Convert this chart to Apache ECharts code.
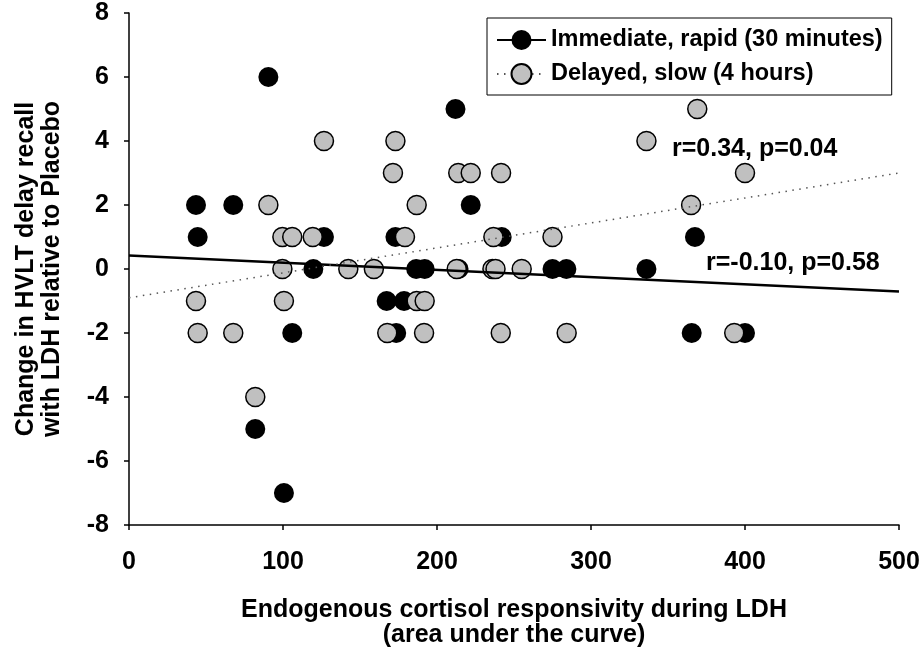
<!DOCTYPE html>
<html>
<head>
<meta charset="utf-8">
<script src="https://cdn.jsdelivr.net/npm/echarts@6/dist/echarts.min.js"></script>
<style>html,body{margin:0;padding:0;background:#fff}#c{width:922px;height:649px}</style>
</head>
<body>
<div id="c"></div>
<script>
var immediateName = 'Immediate, rapid (30 minutes)';
var delayedName = 'Delayed, slow (4 hours)';
var xTicks = [0, 100, 200, 300, 400, 500];
var yTicks = [-8, -6, -4, -2, 0, 2, 4, 6, 8];
var immediatePoints = [
  [43.5,2],[44.6,1],[67.7,2],[90.5,6],[126.6,1],[173,1],[119.7,0],[186.5,0],[192,0],
  [212,5],[221.9,2],[242,1],[214,0],[275,0],[284,0],[336,0],[367.5,1],[167.3,-1],
  [178.6,-1],[106,-2],[173.5,-2],[82,-5],[100.6,-7],[365.4,-2],[400,-2]
];
var delayedPoints = [
  [90.5,2],[126.6,4],[173,4],[171.4,3],[186.8,2],[99.6,1],[106,1],[119.3,1],[179.2,1],
  [99.6,0],[142.4,0],[159,0],[43.5,-1],[100.6,-1],[186.8,-1],[192,-1],[44.6,-2],[67.7,-2],
  [167.7,-2],[191.6,-2],[82,-4],[336,4],[369,5],[213.8,3],[221.9,3],[241.6,3],[365,2],
  [236.6,1],[275,1],[212.8,0],[236,0],[238,0],[255,0],[241.4,-2],[284.2,-2],[400,3],[393,-2]
];
var immediateFit = [[0,0.42],[500,-0.70]];
var delayedFit = [[0,-0.90],[500,3.0]];
var immediateStat = 'r=-0.10, p=0.58';
var delayedStat = 'r=0.34, p=0.04';

var FONT = 'Liberation Sans, Arial, sans-serif';
var FS = 25;
var chart = echarts.init(document.getElementById('c'));
chart.setOption({
  animation: false,
  grid: {left: 129, right: 23, top: 13, bottom: 124, outerBoundsMode: 'none', containLabel: false},
  legend: {
    left: 487, top: 18, orient: 'vertical',
    data: [immediateName, delayedName],
    itemWidth: 49, itemHeight: 25, itemGap: 10,
    borderColor: '#000', borderWidth: 1, padding: [10, 9, 9, 9],
    textStyle: {fontFamily: FONT, fontWeight: 'bold', fontSize: 23.5, color: '#000'},
    selectedMode: false
  },
  xAxis: {
    type: 'value', min: 0, max: 500, interval: 100,
    name: 'Endogenous cortisol responsivity during LDH\n(area under the curve)',
    nameLocation: 'middle', nameGap: 73,
    nameTextStyle: {fontFamily: FONT, fontWeight: 'bold', fontSize: FS, color: '#000', lineHeight: 25},
    axisLine: {onZero: false, lineStyle: {color: '#000', width: 1.5}},
    axisTick: {show: true, length: 5, lineStyle: {color: '#000', width: 1.5}},
    axisLabel: {margin: 25, fontFamily: FONT, fontWeight: 'bold', fontSize: FS, color: '#000',
      formatter: function(v){ return xTicks.indexOf(v) >= 0 ? String(v) : ''; }},
    splitLine: {show: false}
  },
  yAxis: {
    type: 'value', min: -8, max: 8, interval: 2,
    name: 'Change in HVLT delay recall\nwith LDH relative to Placebo',
    nameLocation: 'middle', nameGap: 64, nameRotate: 90,
    nameTextStyle: {fontFamily: FONT, fontWeight: 'bold', fontSize: FS, color: '#000', lineHeight: 26},
    axisLine: {show: true, onZero: false, lineStyle: {color: '#000', width: 1.5}},
    axisTick: {show: true, length: 5, lineStyle: {color: '#000', width: 1.5}},
    axisLabel: {margin: 20, fontFamily: FONT, fontWeight: 'bold', fontSize: FS, color: '#000',
      formatter: function(v){ return yTicks.indexOf(v) >= 0 ? String(v) : ''; }},
    splitLine: {show: false}
  },
  graphic: [
    {type: 'text', left: 672, top: 137, style: {text: delayedStat, fontFamily: FONT, fontWeight: 'bold', fontSize: FS, fill: '#000'}},
    {type: 'text', left: 706, top: 251, style: {text: immediateStat, fontFamily: FONT, fontWeight: 'bold', fontSize: FS, fill: '#000'}}
  ],
  series: [
    {name: immediateName, type: 'line', data: immediateFit, z: 4,
      symbol: 'circle', symbolSize: 20, showSymbol: false,
      itemStyle: {color: '#000'}, lineStyle: {color: '#000', width: 2.5}, silent: true},
    {name: delayedName, type: 'line', data: delayedFit, z: 4,
      symbol: 'circle', symbolSize: 20, showSymbol: false,
      itemStyle: {color: '#c0c0c0', borderColor: '#000', borderWidth: 1.5},
      lineStyle: {color: '#555', width: 1.5, type: [1.5, 5.5]}, silent: true},
    {name: immediateName, type: 'scatter', data: immediatePoints, z: 2,
      symbol: 'circle', symbolSize: 20, itemStyle: {color: '#000', opacity: 1}},
    {name: delayedName, type: 'scatter', data: delayedPoints, z: 3,
      symbol: 'circle', symbolSize: 19, itemStyle: {color: '#c0c0c0', borderColor: '#000', borderWidth: 1.5, opacity: 1}}
  ]
});
</script>
</body>
</html>
